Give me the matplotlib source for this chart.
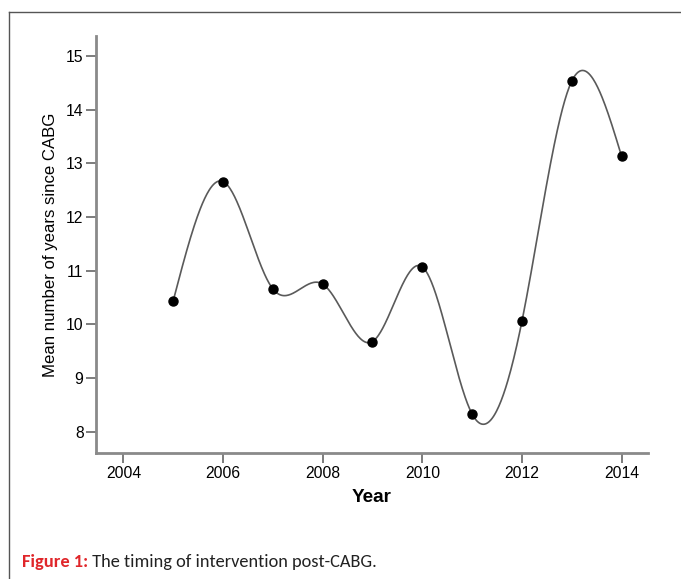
import matplotlib

matplotlib.use("Agg")
import matplotlib.pyplot as plt
import numpy as np
from matplotlib import font_manager
from matplotlib.lines import Line2D

years = [2005, 2006, 2007, 2008, 2009, 2010, 2011, 2012, 2013, 2014]
mean_years = [10.44, 12.66, 10.66, 10.75, 9.68, 11.07, 8.33, 10.06, 14.53, 13.13]
x_ticks = [2004, 2006, 2008, 2010, 2012, 2014]
y_ticks = [8, 9, 10, 11, 12, 13, 14, 15]


def natural_spline(x, y, xs):
    x = np.asarray(x, float)
    y = np.asarray(y, float)
    n = len(x)
    h = np.diff(x)
    A = np.zeros((n, n))
    b = np.zeros(n)
    A[0, 0] = A[-1, -1] = 1.0
    for i in range(1, n - 1):
        A[i, i - 1] = h[i - 1]
        A[i, i] = 2 * (h[i - 1] + h[i])
        A[i, i + 1] = h[i]
        b[i] = 6 * ((y[i + 1] - y[i]) / h[i] - (y[i] - y[i - 1]) / h[i - 1])
    m = np.linalg.solve(A, b)
    idx = np.clip(np.searchsorted(x, xs) - 1, 0, n - 2)
    x0, x1 = x[idx], x[idx + 1]
    hh = x1 - x0
    t0, t1 = x1 - xs, xs - x0
    return (m[idx] * t0 ** 3 / (6 * hh) + m[idx + 1] * t1 ** 3 / (6 * hh)
            + (y[idx] / hh - m[idx] * hh / 6) * t0
            + (y[idx + 1] / hh - m[idx + 1] * hh / 6) * t1)


AXIS_FONT = "Liberation Sans"
installed = {f.name for f in font_manager.fontManager.ttflist}
if "Carlito" in installed:
    CAPTION_FONT, CAPTION_SIZE = "Carlito", 13.2
else:
    CAPTION_FONT, CAPTION_SIZE = "Lato", 11.2
plt.rcParams["font.family"] = AXIS_FONT

fig = plt.figure(figsize=(6.81, 5.79), dpi=100)
ax = fig.add_axes([96 / 681, 1 - 452.7 / 579, (648 - 96) / 681, (452.7 - 36) / 579])

xs = np.linspace(years[0], years[-1], 600)
ax.plot(xs, natural_spline(years, mean_years, xs), color="#5a5a5a", linewidth=1.2)
ax.plot(years, mean_years, "o", color="black", markersize=6.5)

ax.set_xlim(2003.45, 2014.53)
ax.set_ylim(7.61, 15.37)
ax.set_xticks(x_ticks)
ax.set_yticks(y_ticks)
ax.set_xticklabels([str(t) for t in x_ticks], fontsize=11.3, family=AXIS_FONT)
ax.set_yticklabels([str(t) for t in y_ticks], fontsize=11.3, family=AXIS_FONT)

for side in ("top", "right"):
    ax.spines[side].set_visible(False)
for side in ("left", "bottom"):
    ax.spines[side].set_color("#8a8a8a")
    ax.spines[side].set_linewidth(2)
ax.tick_params(axis="both", color="#666666", width=1.2, length=7, labelcolor="#000000")
ax.tick_params(axis="y", pad=2)
ax.tick_params(axis="x", pad=2.5)

ax.set_xlabel("Year", fontsize=13.6, fontweight="bold", labelpad=6, family=AXIS_FONT)
ax.set_ylabel("Mean number of years since CABG", fontsize=12.1, labelpad=6, family=AXIS_FONT)

# frame border (top and left only, as cropped from the page)
fig.add_artist(Line2D([9 / 681, 9 / 681], [0, 1 - 12 / 579], transform=fig.transFigure,
                      color="#555555", linewidth=1))
fig.add_artist(Line2D([9 / 681, 1], [1 - 12 / 579, 1 - 12 / 579], transform=fig.transFigure,
                      color="#555555", linewidth=1))

cap = fig.text(22 / 681, 1 - 567 / 579, "Figure 1:", fontsize=CAPTION_SIZE, fontweight="bold",
               color="#e0262a", family=CAPTION_FONT, va="baseline")
fig.canvas.draw()
ax.annotate(" The timing of intervention post-CABG.", xy=(1, 0), xycoords=cap,
            fontsize=CAPTION_SIZE, color="#222222", family=CAPTION_FONT,
            va="bottom", annotation_clip=False)

fig.savefig("out.png", dpi=100)
